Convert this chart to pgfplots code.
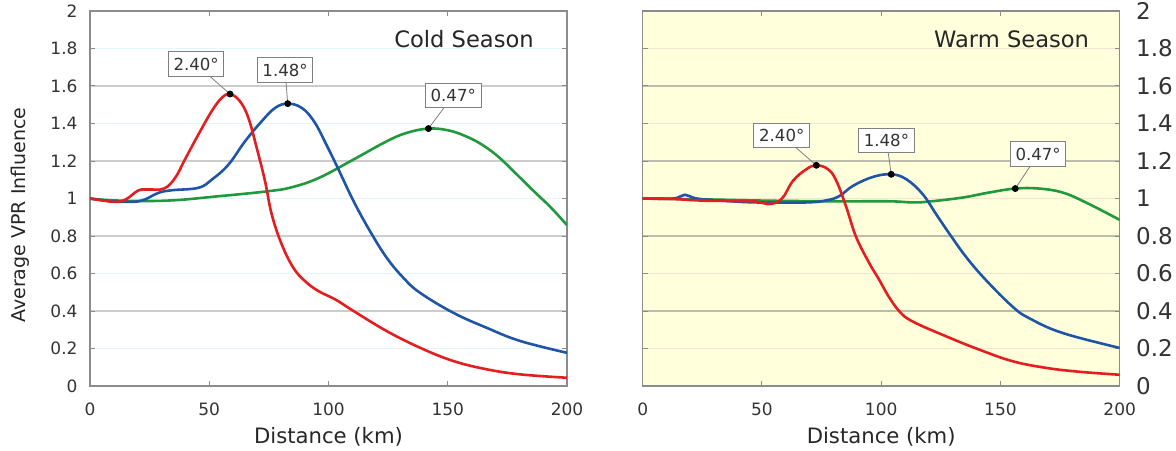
\documentclass[border=0pt]{standalone}
\usepackage{fontspec}
\setmainfont{DejaVu Sans}
\usepackage{pgfplots}
\pgfplotsset{compat=1.18}
\definecolor{cred}{HTML}{E41E20}
\definecolor{cblue}{HTML}{1F55A6}
\definecolor{cgreen}{HTML}{1E9A3C}
\definecolor{framec}{HTML}{8C8C8C}
\definecolor{warmbg}{HTML}{FFFFDC}
\definecolor{gridA}{HTML}{CCCCCC}
\definecolor{gridB}{HTML}{E2F7F7}
\definecolor{gridC}{HTML}{BDBDAE}
\definecolor{gridD}{HTML}{F5E4D4}
\tikzset{
  lbl/.style={draw=gray, fill=white, line width=0.5pt, font=\fontsize{8.3}{10}\selectfont, text=black!80, inner xsep=2.6pt, inner ysep=3pt},
  ttl/.style={anchor=east, font=\fontsize{11.3}{13}\selectfont, text=black!85},
}
\pgfplotsset{
  vpr/.style={
    scale only axis, width=238.5pt, height=187.5pt,
    xmin=0, xmax=200, ymin=0, ymax=2,
    xtick={0,50,100,150,200},
    ytick={0,0.4,0.8,1.2,1.6,2},
    extra y ticks={0.2,0.6,1,1.4,1.8},
    ymajorgrids,
    axis line style={framec, line width=0.6pt},
    tick style={framec, line width=0.5pt},
    major tick length=2.5pt,
    tick align=inside,
    ticklabel style={font=\fontsize{8.5}{10}\selectfont, text=black!80},
    xticklabel style={yshift=-5pt},
    /pgf/number format/assume math mode=true,
    xlabel={Distance (km)},
    xlabel style={font=\fontsize{10.6}{12}\selectfont, text=black!85, at={(axis description cs:0.5,-0.136)}, anchor=center},
  },
  curve/.style={line width=1.3pt, smooth, tension=0.65},
  peak/.style={only marks, mark=*, mark size=1.5pt, black},
}
\begin{document}
\begin{tikzpicture}
\useasboundingbox (0,0) rectangle (588pt,225pt);
% ---------------- Cold season ----------------
\begin{axis}[vpr, at={(45pt,32pt)}, anchor=south west,
  major grid style={gridA, line width=0.9pt},
  extra y tick style={major grid style={gridB, line width=0.9pt}},
  yticklabel style={xshift=-2.7pt},
  ylabel={Average VPR Influence},
  ylabel style={font=\fontsize{9.5}{11}\selectfont, text=black!85, at={(axis description cs:-0.147,0.456)}, anchor=center},
]
\addplot[curve, cgreen] coordinates {
(0,1.0) (11.9,0.989) (32.8,0.989) (53.8,1.012) (74.8,1.039) (84.6,1.06) (96,1.11)
(110.5,1.208) (124.4,1.305) (132.8,1.35) (141.9,1.373) (150,1.364) (157,1.335)
(164,1.29) (171,1.225) (178,1.14) (186,1.04) (193,0.955) (200,0.858)};
\addplot[curve, cblue] coordinates {
(0,1.0) (6.3,0.989) (14.7,0.982) (21.7,0.989) (28.7,1.03) (34.3,1.044) (45.4,1.057)
(51,1.10) (58,1.18) (65,1.305) (72,1.412) (77.6,1.483) (82.9,1.506) (88.8,1.483)
(94,1.41) (99,1.29) (104,1.16) (110.5,0.986) (117.4,0.826) (124.4,0.684) (131.4,0.577)
(138.4,0.497) (152.4,0.39) (166.4,0.31) (180.4,0.24) (200,0.177)};
\addplot[curve, cred] coordinates {
(0,1.0) (5,0.99) (10.5,0.982) (15,0.995) (20.3,1.043) (24.5,1.048) (31,1.053)
(35.7,1.11) (39.8,1.208) (45.4,1.34) (51,1.465) (55.2,1.536) (58.7,1.557) (62.9,1.518)
(66.4,1.43) (69.9,1.27) (73.4,1.092) (76.2,0.915) (80.4,0.755) (85.3,0.63) (90.2,0.559)
(95.8,0.506) (102.8,0.462) (110.5,0.40) (124.4,0.293) (138.4,0.204) (152.4,0.133)
(166.4,0.089) (180.4,0.062) (200,0.044)};
\draw[gray, line width=0.4pt] (axis cs:44.5,1.716) -- (axis cs:58.7,1.557);
\draw[gray, line width=0.4pt] (axis cs:81.8,1.684) -- (axis cs:82.9,1.506);
\draw[gray, line width=0.4pt] (axis cs:152.3,1.55) -- (axis cs:141.9,1.373);
\addplot[peak] coordinates {(58.7,1.557) (82.9,1.506) (141.9,1.373)};
\node[lbl] at (axis cs:44.5,1.716) {2.40°};
\node[lbl] at (axis cs:81.8,1.684) {1.48°};
\node[lbl] at (axis cs:152.3,1.55) {0.47°};
\node[ttl] at (axis cs:189,1.85) {Cold Season};
\end{axis}
% ---------------- Warm season ----------------
\begin{axis}[vpr, at={(321.35pt,32pt)}, anchor=south west,
  axis background/.style={fill=warmbg},
  major grid style={gridC, line width=0.9pt},
  extra y tick style={major grid style={gridD, line width=0.9pt}},
  yticklabel pos=right,
  yticklabel style={anchor=west, xshift=4.7pt, font=\fontsize{11.5}{13}\selectfont},
]
\addplot[curve, cgreen] coordinates {
(0,1.0) (26.8,0.995) (54.6,0.988) (82.6,0.985) (103.5,0.985) (113.2,0.979) (120.2,0.984)
(134.1,1.005) (145.3,1.032) (156.2,1.053) (166.2,1.053) (176,1.032) (185.8,0.979) (200,0.886)};
\addplot[curve, cblue] coordinates {
(0,1.0) (12.8,1.0) (17.7,1.02) (22.6,1.0) (33.7,0.988) (47.7,0.979) (68.6,0.979) (77,0.99)
(82.6,1.014) (88.1,1.067) (96.5,1.115) (104.2,1.129) (110.5,1.103) (117.4,1.023) (123,0.917)
(128.6,0.812) (135.6,0.688) (143.9,0.565) (155.1,0.423) (162,0.362) (176,0.283) (200,0.203)};
\addplot[curve, cred] coordinates {
(0,1.0) (12.8,0.997) (26.8,0.988) (46.3,0.985) (52.6,0.97) (58.2,0.997) (63,1.094)
(68.6,1.156) (72.8,1.177) (77.7,1.156) (81.2,1.094) (85.4,0.952) (89.5,0.794) (95.1,0.653)
(99,0.57) (103,0.48) (107.7,0.397) (113.2,0.344) (127.2,0.265) (141.1,0.194) (155.1,0.132)
(169,0.097) (183,0.076) (200,0.06)};
\draw[gray, line width=0.4pt] (axis cs:58.3,1.337) -- (axis cs:72.8,1.177);
\draw[gray, line width=0.4pt] (axis cs:102.2,1.31) -- (axis cs:104.2,1.129);
\draw[gray, line width=0.4pt] (axis cs:165.8,1.236) -- (axis cs:156.2,1.053);
\addplot[peak] coordinates {(72.8,1.177) (104.2,1.129) (156.2,1.053)};
\node[lbl] at (axis cs:58.3,1.337) {2.40°};
\node[lbl] at (axis cs:102.2,1.31) {1.48°};
\node[lbl] at (axis cs:165.8,1.236) {0.47°};
\node[ttl] at (axis cs:190.1,1.85) {Warm Season};
\end{axis}
\end{tikzpicture}
\end{document}
